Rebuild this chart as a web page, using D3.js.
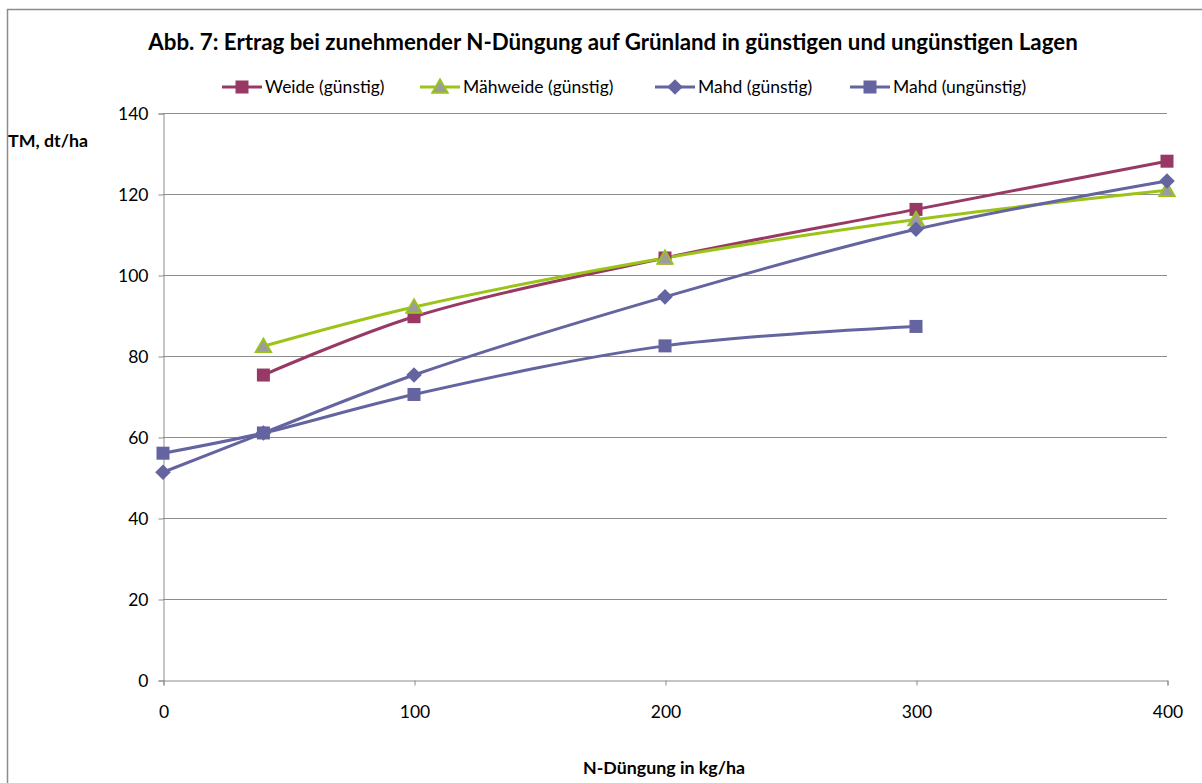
<!DOCTYPE html>
<html>
<head>
<meta charset="utf-8">
<script src="https://cdn.jsdelivr.net/npm/d3@7"></script>
<style>
  html, body { margin: 0; padding: 0; background: #fff; }
  svg { display: block; }
</style>
</head>
<body>
<svg id="chart" width="1202" height="783"></svg>
<script>
// N-Düngung (kg/ha) and TM yield (dt/ha) per variant
const nLevels = [0, 40, 100, 200, 300, 400];
const weideGuenstig = [null, 75.3, 89.7, 104.2, 116.2, 128.1];
const maehweideGuenstig = [null, 82.4, 92.1, 104.2, 113.7, 120.9];
const mahdGuenstig = [51.3, 61.0, 75.3, 94.6, 111.3, 123.2];
const mahdUnguenstig = [56.0, 61.0, 70.5, 82.5, 87.3, null];

const xTicks = [0, 100, 200, 300, 400];
const yTicks = [0, 20, 40, 60, 80, 100, 120, 140];

const titleText = "Abb. 7: Ertrag bei zunehmender N-Düngung auf Grünland in günstigen und ungünstigen Lagen";
const xTitle = "N-Düngung in kg/ha";
const yTitle = "TM, dt/ha";

const series = [
  { name: "Weide (günstig)", values: weideGuenstig, color: "#983965", marker: "square", fill: "#983965" },
  { name: "Mähweide (günstig)", values: maehweideGuenstig, color: "#9bc418", marker: "triangle", fill: "#9c9c9c" },
  { name: "Mahd (günstig)", values: mahdGuenstig, color: "#6464a0", marker: "diamond", fill: "#6464a0" },
  { name: "Mahd (ungünstig)", values: mahdUnguenstig, color: "#6464a0", marker: "square", fill: "#6464a0" }
];

const font = "Lato, 'Open Sans', sans-serif";
const svg = d3.select("#chart");

// outer frame
svg.append("rect").attr("x", 7.5).attr("y", 9.5).attr("width", 1202).attr("height", 790)
  .attr("fill", "none").attr("stroke", "#8c8c8c").attr("stroke-width", 1.5);

const plot = { left: 163, right: 1167, top: 113, bottom: 680 };
const x = d3.scaleLinear().domain([0, 400]).range([plot.left, plot.right]);
const y = d3.scaleLinear().domain([0, 140]).range([plot.bottom, plot.top]);

// horizontal gridlines
svg.append("g").selectAll("line").data(yTicks.filter(d => d > 0)).join("line")
  .attr("x1", plot.left).attr("x2", plot.right)
  .attr("y1", d => Math.round(y(d)) + 0.5).attr("y2", d => Math.round(y(d)) + 0.5)
  .attr("stroke", "#8c8c8c").attr("stroke-width", 1);

// y axis
const yAxis = svg.append("g").attr("transform", `translate(${plot.left + 0.5},0.5)`)
  .call(d3.axisLeft(y).tickValues(yTicks).tickSize(5).tickPadding(10));
yAxis.select(".domain").attr("stroke", "#8c8c8c");
yAxis.selectAll(".tick line").attr("stroke", "#8c8c8c");
yAxis.selectAll(".tick text").attr("font-family", font).attr("font-size", 17.5).attr("fill", "#000");

// x axis
const xAxis = svg.append("g").attr("transform", `translate(0.5,${plot.bottom + 0.5})`)
  .call(d3.axisBottom(x).tickValues(xTicks).tickSize(5).tickPadding(20));
xAxis.select(".domain").attr("stroke", "#8c8c8c");
xAxis.selectAll(".tick line").attr("stroke", "#8c8c8c");
xAxis.selectAll(".tick text").attr("font-family", font).attr("font-size", 17.5).attr("fill", "#000");

// titles
svg.append("text").attr("x", 613).attr("y", 50).attr("text-anchor", "middle")
  .attr("font-family", font).attr("font-weight", "bold").attr("font-size", 22.3).text(titleText);
svg.append("text").attr("x", 664).attr("y", 774).attr("text-anchor", "middle")
  .attr("font-family", font).attr("font-weight", "bold").attr("font-size", 17.8).text(xTitle);
svg.append("text").attr("x", 8).attr("y", 147)
  .attr("font-family", font).attr("font-weight", "bold").attr("font-size", 17.8).text(yTitle);

function drawMarker(g, type, cx, cy, s) {
  if (type === "square") {
    g.append("rect").attr("x", cx - s.size / 2).attr("y", cy - s.size / 2)
      .attr("width", s.size).attr("height", s.size).attr("fill", s.fill);
  } else if (type === "diamond") {
    const r = s.size * 0.6;
    g.append("path").attr("d", `M${cx},${cy - r}L${cx + r},${cy}L${cx},${cy + r}L${cx - r},${cy}Z`)
      .attr("fill", s.fill);
  } else {
    const r = s.size * 0.6;
    g.append("path").attr("d", `M${cx},${cy - r}L${cx + r},${cy + r * 0.75}L${cx - r},${cy + r * 0.75}Z`)
      .attr("fill", s.fill).attr("stroke", s.color).attr("stroke-width", 1.8);
  }
}

const line = d3.line().defined(d => d[1] != null)
  .x(d => x(d[0])).y(d => y(d[1])).curve(d3.curveCatmullRom.alpha(0.5));

series.forEach(s => {
  const pts = nLevels.map((n, i) => [n, s.values[i]]).filter(d => d[1] != null);
  svg.append("path").datum(pts).attr("d", line).attr("fill", "none")
    .attr("stroke", s.color).attr("stroke-width", 3).attr("stroke-linejoin", "round");
});
series.forEach(s => {
  const g = svg.append("g");
  nLevels.forEach((n, i) => {
    if (s.values[i] != null) drawMarker(g, s.marker, x(n), y(s.values[i]), { ...s, size: 13 });
  });
});

// legend
const legendX = [222, 420, 655, 850];
series.forEach((s, i) => {
  const g = svg.append("g").attr("transform", `translate(${legendX[i]},87)`);
  g.append("line").attr("x1", 0).attr("x2", 40).attr("y1", 0).attr("y2", 0)
    .attr("stroke", s.color).attr("stroke-width", 3);
  drawMarker(g, s.marker, 20, 0, { ...s, size: 13 });
  g.append("text").attr("x", 43).attr("y", 6).attr("font-family", font)
    .attr("font-size", 17.5).text(s.name);
});
</script>
</body>
</html>
